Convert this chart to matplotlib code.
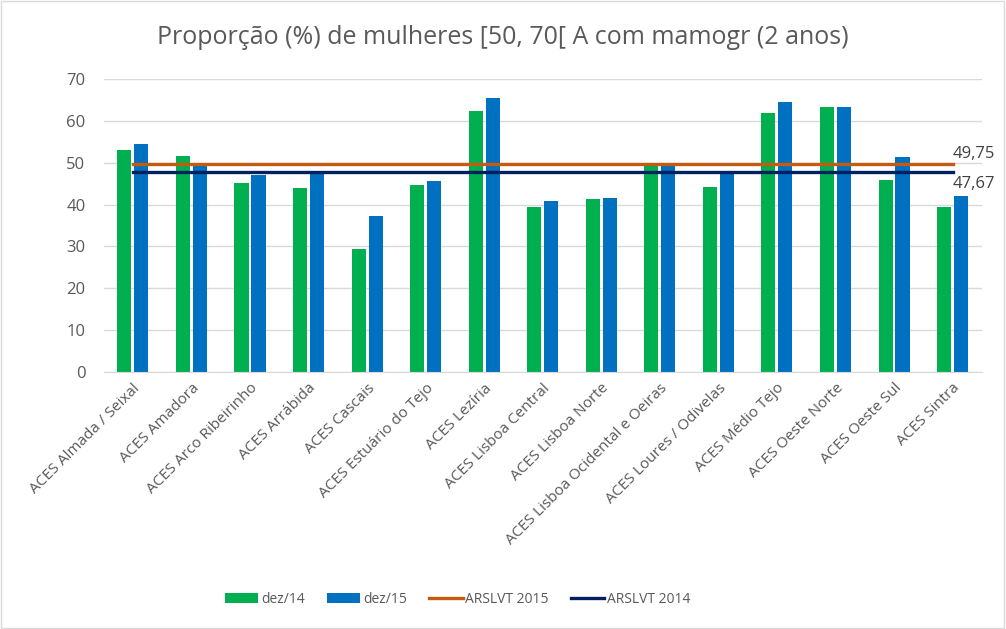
import numpy as np
import matplotlib.pyplot as plt
from matplotlib.patches import Rectangle

# data
categories = ['ACES Almada / Seixal', 'ACES Amadora', 'ACES Arco Ribeirinho', 'ACES Arrábida',
              'ACES Cascais', 'ACES Estuário do Tejo', 'ACES Lezíria', 'ACES Lisboa Central',
              'ACES Lisboa Norte', 'ACES Lisboa Ocidental e Oeiras', 'ACES Loures / Odivelas',
              'ACES Médio Tejo', 'ACES Oeste Norte', 'ACES Oeste Sul', 'ACES Sintra']
dez14 = [52.9, 51.5, 45.1, 43.9, 29.4, 44.6, 62.2, 39.4, 41.3, 49.8, 44.2, 61.8, 63.2, 45.8, 39.4]
dez15 = [54.4, 49.8, 47.0, 47.8, 37.2, 45.6, 65.3, 40.8, 41.6, 49.1, 47.8, 64.4, 63.2, 51.3, 42.0]
arslvt_2015 = 49.75
arslvt_2014 = 47.67

plt.rcParams['font.family'] = ['Open Sans', 'DejaVu Sans']
text_color = '#595959'

fig = plt.figure(figsize=(10.06, 6.29), dpi=100)
ax = fig.add_axes([0.103, 0.408, 0.873, 0.467])

x = np.arange(len(categories))
w = 0.24
ax.bar(x - 0.145, dez14, width=w, color='#00B050', label='dez/14', zorder=2)
ax.bar(x + 0.145, dez15, width=w, color='#0070C0', label='dez/15', zorder=2)
ax.plot([x[0], x[-1]], [arslvt_2015] * 2, color='#C55A11', lw=2.4, label='ARSLVT 2015', zorder=3)
ax.plot([x[0], x[-1]], [arslvt_2014] * 2, color='#002060', lw=2.4, label='ARSLVT 2014', zorder=3)

ax.text(x[-1] + 0.0, arslvt_2015 + 0.5, f'{arslvt_2015:.2f}'.replace('.', ','),
        fontsize=12, color='#404040', va='bottom', ha='left')
ax.text(x[-1] + 0.0, arslvt_2014 - 0.9, f'{arslvt_2014:.2f}'.replace('.', ','),
        fontsize=12, color='#404040', va='top', ha='left')

ax.set_xlim(-0.5, len(categories) - 0.5)
ax.set_ylim(0, 70)
ax.set_yticks(range(0, 71, 10))
ax.yaxis.grid(True, color='#D9D9D9', lw=1, zorder=0)
ax.set_axisbelow(True)
for s in ['top', 'right', 'left']:
    ax.spines[s].set_visible(False)
ax.spines['bottom'].set_color('#D9D9D9')
ax.tick_params(axis='y', length=0, labelsize=12, colors=text_color, pad=13)
ax.tick_params(axis='x', length=0, colors=text_color, pad=6)
ax.set_xticks(x)
ax.set_xticklabels(categories, rotation=45, ha='right', rotation_mode='anchor',
                   fontsize=11, color=text_color)

fig.text(0.5, 0.94, 'Proporção (%) de mulheres [50, 70[ A com mamogr (2 anos)',
         ha='center', va='center', fontsize=18, color=text_color)

handles, labels = ax.get_legend_handles_labels()
order = [2, 3, 0, 1]
leg = fig.legend([handles[i] for i in order], [labels[i] for i in order],
                 loc='center', bbox_to_anchor=(0.455, 0.047), ncol=4, frameon=False,
                 fontsize=10, handlelength=2.4, columnspacing=1.6, handletextpad=0.2)
for t in leg.get_texts():
    t.set_color(text_color)

fig.patches.append(Rectangle((0.001, 0.001), 0.997, 0.997, transform=fig.transFigure,
                             fill=False, edgecolor='#D9D9D9', lw=1))

plt.savefig('out.png', dpi=100)
